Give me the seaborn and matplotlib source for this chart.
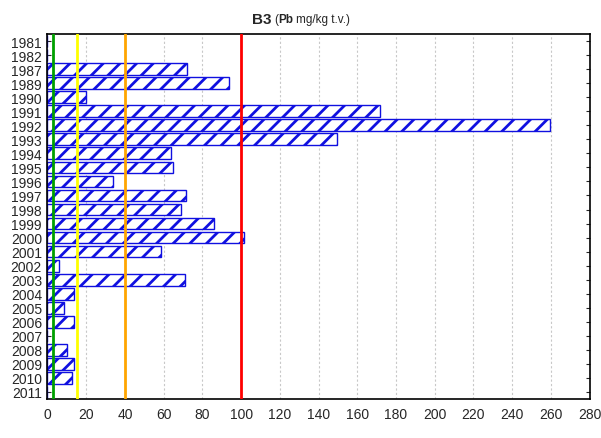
import seaborn as sns
import matplotlib.pyplot as plt
import pandas as pd

years = ['1981', '1982', '1987', '1989', '1990', '1991', '1992', '1993', '1994', '1995',
         '1996', '1997', '1998', '1999', '2000', '2001', '2002', '2003', '2004', '2005',
         '2006', '2007', '2008', '2009', '2010', '2011']
pb = [0, 0, 72, 94, 19.7, 172, 259.7, 149.7, 64, 65,
      33.7, 71.3, 68.9, 85.9, 101.5, 58.8, 6.1, 70.8, 13.7, 8.7,
      13.9, 0, 10.3, 13.9, 12.9, 0]
limits = [3, 15, 40, 100]
limit_colors = ['#00a000', '#ffff00', '#ffa500', '#ff0000']
xticks = list(range(0, 281, 20))

df = pd.DataFrame({'year': years, 'pb': pb})

sns.set_style('white')
plt.rcParams['font.family'] = ['Liberation Sans', 'DejaVu Sans']
plt.rcParams['hatch.linewidth'] = 2.0
plt.rcParams['hatch.color'] = '#0000ee'

fig = plt.figure(figsize=(6.01, 4.39), dpi=100)
ax = fig.add_axes([0.079, 0.089, 0.902, 0.831])

sns.barplot(data=df, x='pb', y='year', order=years, orient='h', color='white',
            saturation=1, width=0.84, edgecolor='#1010e0', linewidth=1.0,
            hatch='//', ax=ax, zorder=2)

for v, c in zip(limits, limit_colors):
    ax.axvline(v, color=c, lw=2, zorder=4)

ax.set_xlim(0, 280)
ax.set_xticks(xticks)
ax.grid(axis='x', color='#c8c8c8', ls=(0, (2, 2)), lw=0.8, zorder=0)
ax.set_axisbelow(True)
ax.set_xlabel('')
ax.set_ylabel('')
ax.tick_params(axis='both', labelsize=10, direction='in', length=3, width=0.8)
ax.tick_params(axis='y', left=True, right=True, pad=4)
ax.tick_params(axis='x', bottom=False, pad=6)
for s in ax.spines.values():
    s.set_color('black')
    s.set_linewidth(1.2)

ty = 1 - 20 / 439
fig.text(252 / 601, ty, 'B3', fontsize=11, fontweight='bold', ha='left', va='center')
fig.text(274 / 601, ty, '(', fontsize=8.5, ha='left', va='center')
fig.text(278.5 / 601, ty, 'Pb', fontsize=8.5, fontweight='bold', ha='left', va='center')
fig.text(296.5 / 601, ty, 'mg/kg t.v.)', fontsize=8.5, ha='left', va='center')

fig.savefig('out.png', dpi=100)
